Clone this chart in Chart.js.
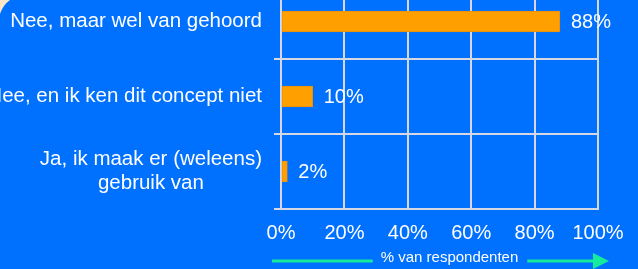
<!DOCTYPE html>
<html>
<head>
<meta charset="utf-8">
<script src="https://cdn.jsdelivr.net/npm/chart.js@4"></script>
<style>
  html, body { margin: 0; padding: 0; width: 638px; height: 269px; overflow: hidden; background: #0070ff; }
  #wrap { position: absolute; left: 0; top: -40px; width: 638px; height: 309px; }
</style>
</head>
<body>
<div id="wrap"><canvas id="chart"></canvas></div>
<script>
// Data
const categories = [
    ['Nee, maar wel van gehoord'],
    ['Nee, en ik ken dit concept niet'],
    ['Ja, ik maak er (weleens)', 'gebruik van']
];
const shares = [88, 10, 2];
const xTickValues = [0, 20, 40, 60, 80, 100];
const axisTitle = '% van respondenten';

const FONT = '"Liberation Sans", Arial, sans-serif';
const GRID = '#d4d8e4';
const SHIFT = 40; // canvas sits 40px above the viewport

Chart.defaults.font.family = FONT;
Chart.defaults.color = '#ffffff';

// Value labels, category labels, axis title with arrow
const decorations = {
    id: 'decorations',
    afterDatasetsDraw(chart) {
        const ctx = chart.ctx;
        const meta = chart.getDatasetMeta(0);
        ctx.save();
        ctx.fillStyle = '#ffffff';
        ctx.font = '20px ' + FONT;
        ctx.textAlign = 'left';
        ctx.textBaseline = 'middle';
        meta.data.forEach((bar, i) => {
            ctx.fillText(shares[i] + '%', bar.x + 11, bar.y + 1);
        });
        ctx.restore();
    },
    afterDraw(chart) {
        const ctx = chart.ctx;
        const area = chart.chartArea;
        const yScale = chart.scales.y;
        ctx.save();

        // cream corner
        ctx.fillStyle = '#fbe6c6';
        ctx.beginPath();
        ctx.moveTo(0, SHIFT);
        ctx.lineTo(10, SHIFT);
        ctx.quadraticCurveTo(3, SHIFT + 5, 0, SHIFT + 14);
        ctx.closePath();
        ctx.fill();

        // category labels, lines centred on each other, right edge at 262
        ctx.fillStyle = '#ffffff';
        ctx.font = '20.5px ' + FONT;
        ctx.textBaseline = 'middle';
        ctx.textAlign = 'center';
        const right = area.left - 19;
        categories.forEach((lines, i) => {
            const w = Math.max(...lines.map(l => ctx.measureText(l).width));
            const cy = yScale.getPixelForValue(i);
            const lh = 24;
            lines.forEach((line, j) => {
                const y = cy + (j - (lines.length - 1) / 2) * lh;
                ctx.fillText(line, right - w / 2, y);
            });
        });

        // axis title with green arrow
        const ty = area.bottom + 50;
        const tx = (area.left + area.right) / 2 + 10;
        ctx.font = '15px ' + FONT;
        ctx.fillText(axisTitle, tx, ty - 1);
        const tw = ctx.measureText(axisTitle).width;
        ctx.strokeStyle = '#14ec9c';
        ctx.fillStyle = '#14ec9c';
        ctx.lineWidth = 3;
        ctx.beginPath();
        ctx.moveTo(area.left - 9, ty + 2);
        ctx.lineTo(tx - tw / 2 - 8, ty + 2);
        ctx.moveTo(tx + tw / 2 + 9, ty + 2);
        ctx.lineTo(area.right - 5, ty + 2);
        ctx.stroke();
        ctx.beginPath();
        ctx.moveTo(area.right - 5, ty - 6);
        ctx.lineTo(area.right + 11, ty + 2);
        ctx.lineTo(area.right - 5, ty + 10);
        ctx.closePath();
        ctx.fill();

        ctx.restore();
    }
};

new Chart(document.getElementById('chart'), {
    type: 'bar',
    data: {
        labels: categories,
        datasets: [{
            data: shares,
            backgroundColor: '#ff9f00',
            borderColor: '#e68f10',
            borderWidth: 1,
            borderSkipped: false,
            barThickness: 21
        }]
    },
    options: {
        indexAxis: 'y',
        responsive: true,
        maintainAspectRatio: false,
        animation: false,
        layout: { padding: { top: SHIFT - 16, right: 40, left: 0, bottom: 0 } },
        plugins: {
            legend: { display: false },
            tooltip: { enabled: false }
        },
        scales: {
            x: {
                min: 0,
                max: 100,
                afterBuildTicks: s => { s.ticks = xTickValues.map(v => ({ value: v })); },
                afterFit: s => { s.height = 60; },
                grid: { color: GRID, lineWidth: 2, drawTicks: false },
                border: { color: GRID, width: 2 },
                ticks: {
                    padding: 12,
                    font: { size: 20 },
                    color: '#ffffff',
                    callback: v => v + '%'
                }
            },
            y: {
                afterFit: s => { s.width = 281; },
                grid: { color: GRID, lineWidth: 2, tickLength: 7, offset: true },
                border: { color: GRID, width: 2 },
                ticks: { display: false }
            }
        }
    },
    plugins: [decorations]
});
</script>
</body>
</html>
